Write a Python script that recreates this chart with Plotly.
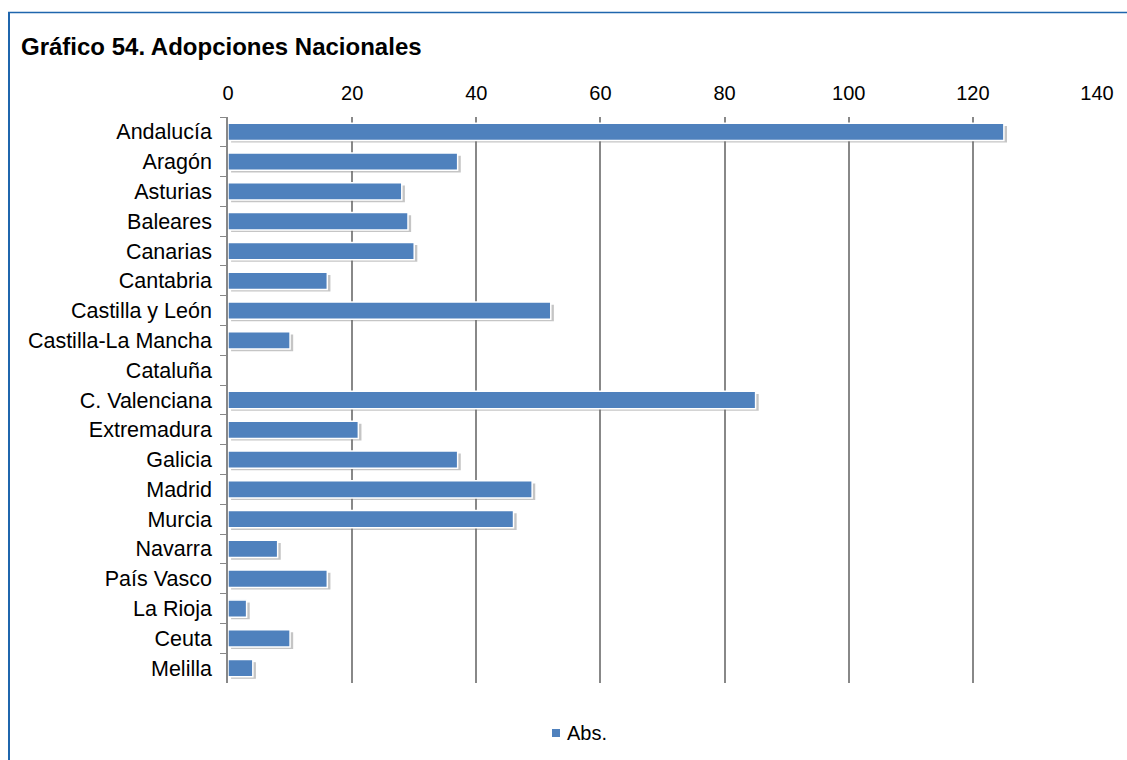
import plotly.graph_objects as go

categories = ["Andalucía", "Aragón", "Asturias", "Baleares", "Canarias", "Cantabria",
              "Castilla y León", "Castilla-La Mancha", "Cataluña", "C. Valenciana",
              "Extremadura", "Galicia", "Madrid", "Murcia", "Navarra", "País Vasco",
              "La Rioja", "Ceuta", "Melilla"]
values = [125, 37, 28, 29, 30, 16, 52, 10, 0, 85, 21, 37, 49, 46, 8, 16, 3, 10, 4]
series_name = "Abs."
title = "Gráfico 54. Adopciones Nacionales"
x_ticks = [0, 20, 40, 60, 80, 100, 120, 140]

W, H = 1127, 760
ml, mr, mt, mb = 228, 30, 117, 77
pw, ph = W - ml - mr, H - mt - mb
BAR_COLOR = "#4f81bd"

fig = go.Figure()
# soft shadow
fig.add_trace(go.Bar(
    y=categories, x=values, base=0.5, orientation="h",
    marker=dict(color="rgba(110,110,110,0.4)", line=dict(width=0)),
    width=0.56, offset=-0.2, showlegend=False, hoverinfo="skip"))
fig.add_trace(go.Bar(
    y=categories, x=values, orientation="h", name=series_name, showlegend=False,
    marker=dict(color=BAR_COLOR, line=dict(color="white", width=1.5)),
    width=0.58, offset=-0.29))

def px2paper_x(px):
    return (px - ml) / pw

def px2paper_y(py):
    return 1 - (py - mt) / ph

fig.update_layout(
    width=W, height=H,
    margin=dict(l=ml, r=mr, t=mt, b=mb),
    paper_bgcolor="white", plot_bgcolor="white",
    barmode="overlay",
    font=dict(family="Liberation Sans, Arial", size=20, color="black"),
    xaxis=dict(range=[0, 140], tickvals=x_ticks, side="top", showgrid=True,
               gridcolor="#888888", gridwidth=1.5, zeroline=False,
               showline=False, ticks="", tickfont=dict(size=20), ticklabelstandoff=12),
    yaxis=dict(autorange="reversed", showline=True, linecolor="#888888", linewidth=1.5,
               ticks="outside", ticklen=6, tickcolor="#888888", tickson="boundaries",
               tickfont=dict(size=21.5), showgrid=False, ticklabelstandoff=10),
    annotations=[
        dict(text="<b>" + title + "</b>", x=px2paper_x(19), y=px2paper_y(46),
             xref="paper", yref="paper", xanchor="left", yanchor="middle",
             showarrow=False, font=dict(size=24)),
        dict(text=series_name, x=px2paper_x(565), y=px2paper_y(733),
             xref="paper", yref="paper", xanchor="left", yanchor="middle",
             showarrow=False, font=dict(size=20)),
    ],
    shapes=[
        dict(type="line", xref="paper", yref="paper",
             x0=px2paper_x(8), x1=px2paper_x(1130), y0=px2paper_y(12.5), y1=px2paper_y(12.5),
             line=dict(color="#1f66ad", width=1.5)),
        dict(type="line", xref="paper", yref="paper",
             x0=px2paper_x(9), x1=px2paper_x(9), y0=px2paper_y(12), y1=px2paper_y(770),
             line=dict(color="#1f66ad", width=2)),
        dict(type="rect", xref="paper", yref="paper",
             x0=px2paper_x(552), x1=px2paper_x(560), y0=px2paper_y(737), y1=px2paper_y(729),
             fillcolor=BAR_COLOR, line=dict(width=0)),
    ],
)

fig.write_html("out.html", config={"displayModeBar": False},
               post_script="document.body.style.margin='0';document.body.style.overflow='hidden';")
